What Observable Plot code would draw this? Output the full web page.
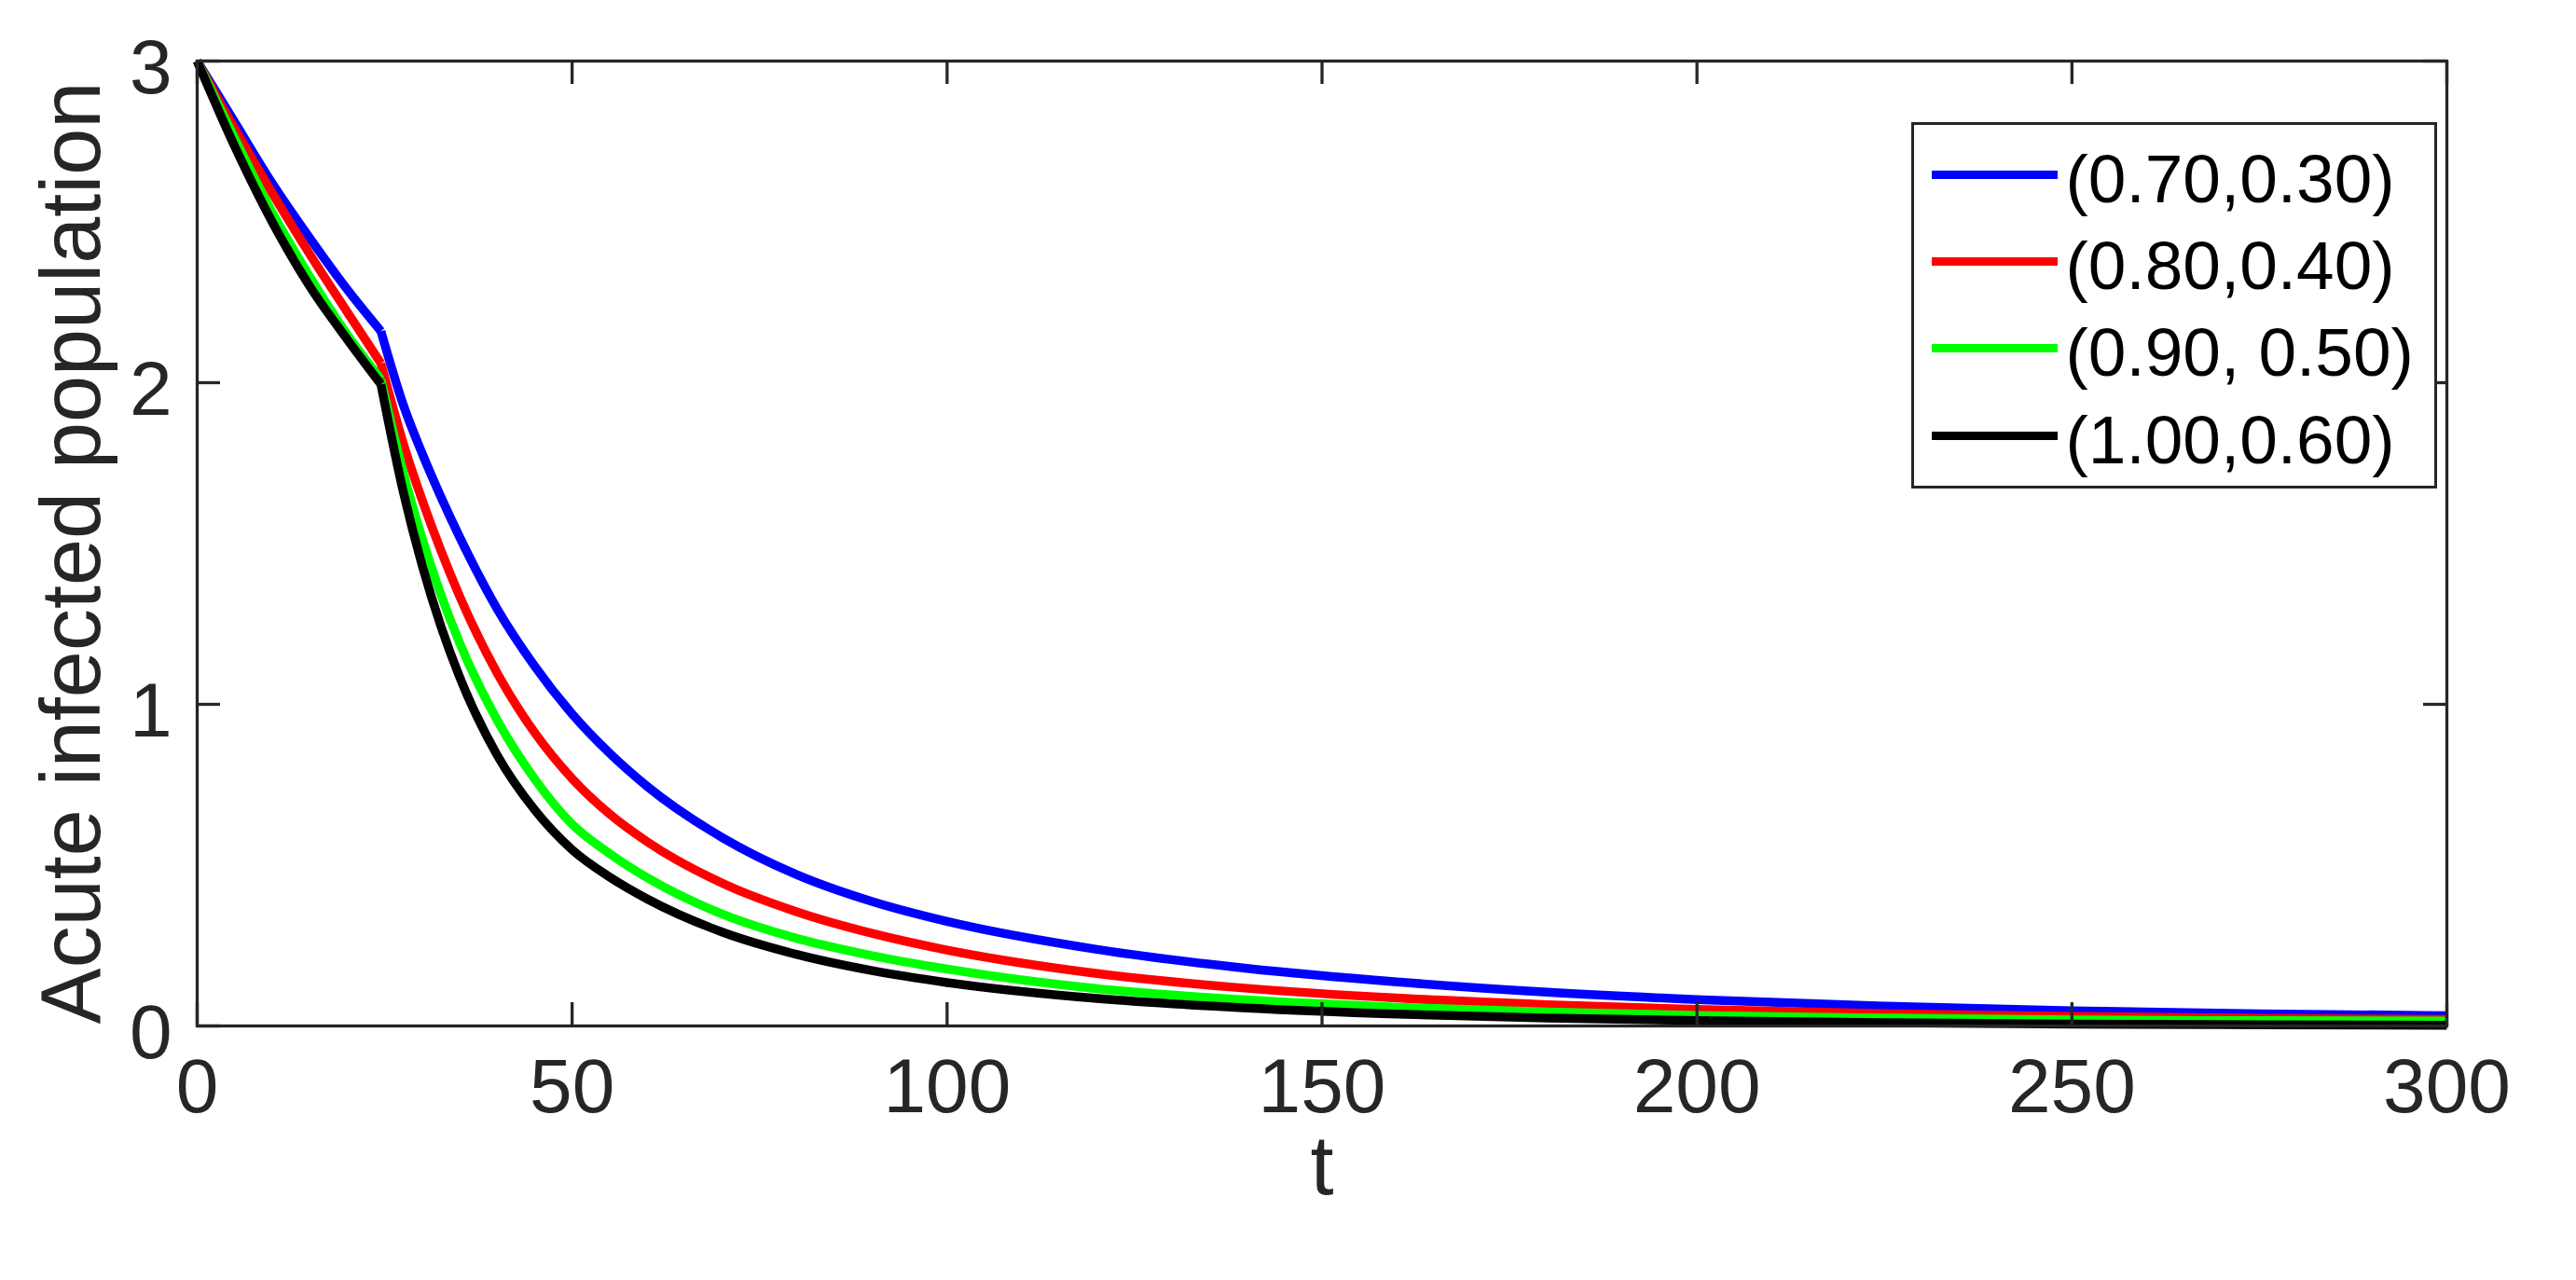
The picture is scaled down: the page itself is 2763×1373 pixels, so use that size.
<!DOCTYPE html>
<html>
<head>
<meta charset="utf-8">
<script src="https://cdn.jsdelivr.net/npm/d3@7"></script>
<script src="https://cdn.jsdelivr.net/npm/@observablehq/plot@0.6"></script>
<style>
html, body { margin: 0; padding: 0; background: #fff; }
#wrap { position: relative; width: 2763px; height: 1373px; font-family: "Liberation Sans", Arial, sans-serif; }
#legend { position: absolute; left: 2050px; top: 131px; width: 564px; height: 393px; box-sizing: border-box; border: 3.5px solid #262626; background: #fff; }
.row { position: absolute; left: 0; width: 100%; height: 93px; }
.sw { position: absolute; left: 18.5px; top: 41.75px; width: 135px; height: 9.5px; }
.lab { position: absolute; left: 162.5px; top: 4px; line-height: 93px; font-size: 73px; color: #000; white-space: nowrap; }
</style>
</head>
<body>
<div id="wrap"></div>
<script>
// ---- data ----
const tValues = [0, 5, 10, 15, 20, 24.5, 27.5, 30, 32.5, 35, 40, 45, 50, 55, 60, 70, 80, 90, 100, 120, 140, 160, 180, 200, 225, 250, 275, 300];
const blueValues  = [3.00, 2.81, 2.62, 2.45, 2.29, 2.16, 1.93, 1.78, 1.645, 1.52, 1.297, 1.119, 0.970, 0.848, 0.745, 0.586, 0.470, 0.387, 0.325, 0.238, 0.179, 0.137, 0.105, 0.082, 0.0615, 0.047, 0.038, 0.032];
const redValues   = [3.00, 2.79, 2.59, 2.40, 2.22, 2.06, 1.81, 1.635, 1.478, 1.336, 1.097, 0.912, 0.769, 0.659, 0.573, 0.444, 0.3545, 0.288, 0.236, 0.163, 0.117, 0.0868, 0.0663, 0.0511, 0.0382, 0.0298, 0.0241, 0.0202];
const greenValues = [3.00, 2.76, 2.53, 2.33, 2.15, 2.01, 1.719, 1.516, 1.341, 1.191, 0.951, 0.768, 0.627, 0.536, 0.461, 0.348, 0.272, 0.2186, 0.177, 0.116, 0.081, 0.0583, 0.0432, 0.0326, 0.0247, 0.0190, 0.0165, 0.015];
const blackValues = [3.00, 2.735, 2.50, 2.30, 2.135, 1.995, 1.659, 1.432, 1.243, 1.085, 0.842, 0.672, 0.548, 0.463, 0.395, 0.292, 0.222, 0.172, 0.135, 0.0853, 0.056, 0.037, 0.0248, 0.0167, 0.0101, 0.0061, 0.0037, 0.0023];
const seriesNames = ["(0.70,0.30)", "(0.80,0.40)", "(0.90, 0.50)", "(1.00,0.60)"];
const seriesColors = ["#0000ff", "#ff0000", "#00ff00", "#000000"];
const switchTime = 24.5;
const xTicks = [0, 50, 100, 150, 200, 250, 300];
const yTicks = [0, 1, 2, 3];
const xLabel = "t";
const yLabel = "Acute infected population";

// ---- table for the library ----
const allSeries = [blueValues, redValues, greenValues, blackValues];
const rows = [];
allSeries.forEach((vals, s) => {
  tValues.forEach((t, i) => {
    if (t <= switchTime) rows.push({t, v: vals[i], name: seriesNames[s], seg: seriesNames[s] + "|a"});
    if (t >= switchTime) rows.push({t, v: vals[i], name: seriesNames[s], seg: seriesNames[s] + "|b"});
  });
});

const W = 2763, H = 1373;
const mL = 211, mR = 139, mT = 65, mB = 273;
const innerW = W - mL - mR, innerH = H - mT - mB;
const tickLen = 25;
const axisColor = "#262626";

const chart = Plot.plot({
  width: W,
  height: H,
  marginLeft: mL,
  marginRight: mR,
  marginTop: mT,
  marginBottom: mB,
  style: {fontFamily: "'Liberation Sans', Arial, sans-serif", background: "white", overflow: "visible"},
  x: {domain: [0, 300]},
  y: {domain: [0, 3]},
  color: {domain: seriesNames, range: seriesColors},
  marks: [
    Plot.line(rows, {x: "t", y: "v", z: "seg", stroke: "name", strokeWidth: 9.5, curve: "monotone-x", strokeLinejoin: "round", strokeLinecap: "butt"}),
    Plot.frame({stroke: axisColor, strokeWidth: 3.3}),
    Plot.tickX(xTicks, {x: d => d, insetTop: innerH - tickLen, stroke: axisColor, strokeWidth: 3.3}),
    Plot.tickX(xTicks, {x: d => d, insetBottom: innerH - tickLen, stroke: axisColor, strokeWidth: 3.3}),
    Plot.tickY(yTicks, {y: d => d, insetRight: innerW - tickLen, stroke: axisColor, strokeWidth: 3.3}),
    Plot.tickY(yTicks, {y: d => d, insetLeft: innerW - tickLen, stroke: axisColor, strokeWidth: 3.3}),
    Plot.axisX(xTicks, {tickSize: 0, tickPadding: 34, fontSize: 82, color: axisColor, label: null, tickFormat: d => String(d)}),
    Plot.axisY(yTicks, {tickSize: 0, tickPadding: 27, fontSize: 82, color: axisColor, label: null, dy: 8, tickFormat: d => String(d)}),
    Plot.text([xLabel], {text: d => d, frameAnchor: "bottom", textAnchor: "middle", dy: 180, fontSize: 90, fill: axisColor}),
    Plot.text([yLabel], {text: d => d, frameAnchor: "left", textAnchor: "middle", dx: -133, dy: 10, rotate: -90, fontSize: 90, fill: axisColor})
  ]
});

const wrap = document.getElementById("wrap");
wrap.appendChild(chart);

// legend inside the axes (top-right), drawn as HTML over the chart
const legend = document.createElement("div");
legend.id = "legend";
const rowTops = [7, 100, 193, 287];
seriesNames.forEach((name, i) => {
  const row = document.createElement("div");
  row.className = "row";
  row.style.top = rowTops[i] + "px";
  const sw = document.createElement("div");
  sw.className = "sw";
  sw.style.background = seriesColors[i];
  const lab = document.createElement("div");
  lab.className = "lab";
  lab.textContent = name;
  row.appendChild(sw);
  row.appendChild(lab);
  legend.appendChild(row);
});
wrap.appendChild(legend);
</script>
</body>
</html>
